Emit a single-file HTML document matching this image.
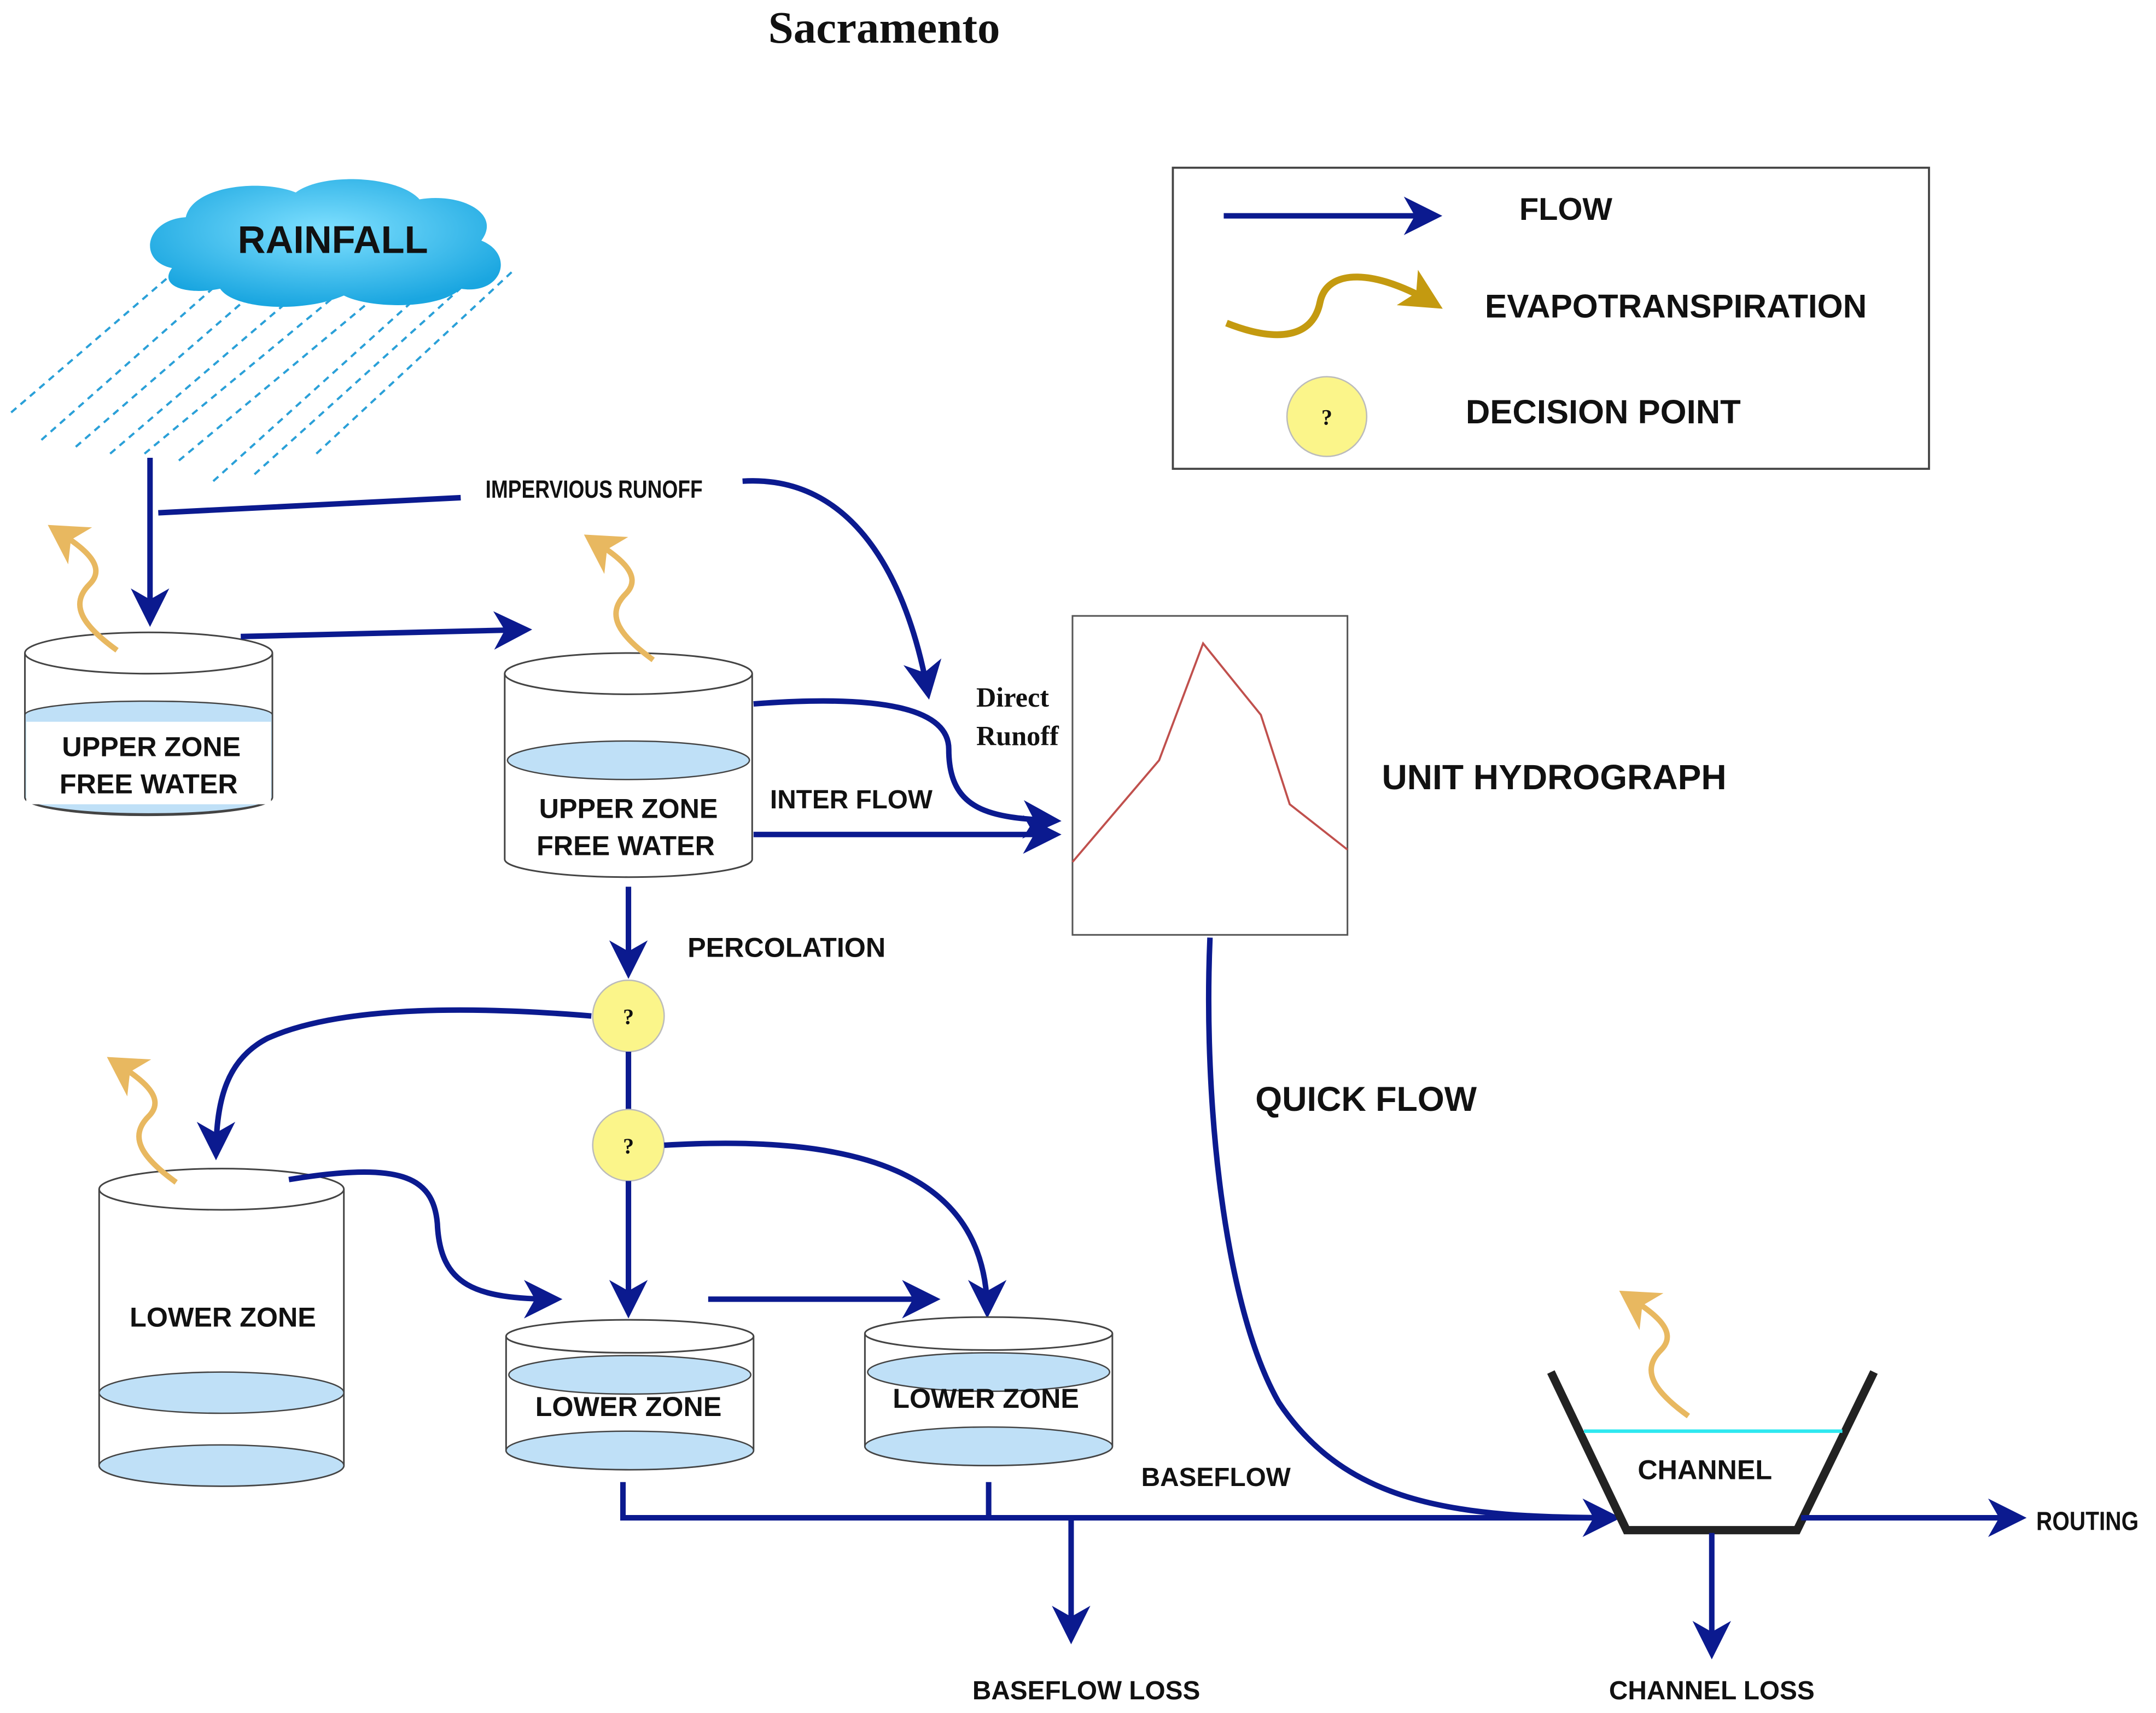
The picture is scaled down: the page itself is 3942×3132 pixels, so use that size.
<!DOCTYPE html>
<html><head><meta charset="utf-8">
<style>
html,body{margin:0;padding:0;background:#fff;}
svg{display:block;}
text{font-family:"Liberation Sans",sans-serif;font-weight:bold;fill:#111;}
</style></head>
<body>
<svg width="3942" height="3132" viewBox="0 0 1568 1246" xmlns="http://www.w3.org/2000/svg">
<defs>
<marker id="ah" markerWidth="8" markerHeight="8" refX="6" refY="4" orient="auto" markerUnits="strokeWidth">
<path d="M0,0.5 L7,4 L0,7.5 L2,4 Z" fill="#0b1a8f"/></marker>
<marker id="gh" markerWidth="8" markerHeight="8" refX="6" refY="4" orient="auto" markerUnits="strokeWidth">
<path d="M0,0 L7,4 L0,8 L2,4 Z" fill="#e8b860"/></marker>
<marker id="gh2" markerWidth="8" markerHeight="8" refX="5" refY="4" orient="auto" markerUnits="strokeWidth">
<path d="M0,1 L6,4 L0,7 L1.5,4 Z" fill="#c49a10"/></marker>
<radialGradient id="cg" cx="50%" cy="40%" r="60%"><stop offset="0" stop-color="#7fe0ff"/><stop offset="1" stop-color="#1aa6e0"/></radialGradient>
</defs>
<style>
.f{stroke:#0b1a8f;stroke-width:4;fill:none;}
.e{stroke:#e8b860;stroke-width:4;fill:none;}
.t{fill:#fff;stroke:#444;stroke-width:1.2;}
.w{fill:#bfe0f7;stroke:#444;stroke-width:1;}
</style>
<text x="643" y="31" text-anchor="middle" style="font-family:'Liberation Serif',serif;font-size:33px">Sacramento</text>

<!-- rain -->
<g stroke="#2aa0d8" stroke-width="1.6" stroke-dasharray="5,4">
<line x1="8" y1="300" x2="130" y2="195"/><line x1="30" y1="320" x2="160" y2="205"/>
<line x1="55" y1="325" x2="190" y2="208"/><line x1="80" y1="330" x2="220" y2="210"/>
<line x1="105" y1="330" x2="250" y2="210"/><line x1="130" y1="335" x2="280" y2="210"/>
<line x1="155" y1="350" x2="310" y2="210"/><line x1="185" y1="345" x2="340" y2="205"/>
<line x1="230" y1="330" x2="372" y2="198"/>
</g>
<!-- cloud -->
<path d="M125,195 C100,190 105,160 135,158 C140,135 190,130 215,140 C235,125 290,128 305,145 C335,140 365,155 350,175 C375,185 365,215 335,210 C320,225 270,225 250,215 C220,228 170,225 160,210 C135,215 115,208 125,195 Z" fill="url(#cg)"/>
<text x="242" y="184" text-anchor="middle" style="font-size:28px">RAINFALL</text>

<!-- legend -->
<rect x="853" y="122" width="550" height="219" fill="#fff" stroke="#444" stroke-width="1.5"/>
<line class="f" x1="890" y1="157" x2="1045" y2="157" marker-end="url(#ah)"/>
<text x="1105" y="160" style="font-size:23px">FLOW</text>
<path d="M892,235 C930,250 955,245 960,220 C965,195 1000,195 1045,222" stroke="#c49a10" stroke-width="5" fill="none" marker-end="url(#gh2)"/>
<text x="1080" y="231" style="font-size:24px">EVAPOTRANSPIRATION</text>
<circle cx="965" cy="303" r="29" fill="#fbf58a" stroke="#bbb"/>
<text x="965" y="309" text-anchor="middle" style="font-family:'Liberation Serif',serif;font-size:16px">?</text>
<text x="1066" y="308" style="font-size:24.5px">DECISION POINT</text>

<!-- rain down + impervious -->
<line class="f" x1="109" y1="333" x2="109" y2="452" marker-end="url(#ah)"/>
<line class="f" x1="115" y1="373" x2="335" y2="362"/>
<text x="353" y="362" style="font-size:18px;transform-origin:353px 362px;transform:scaleX(0.82)">IMPERVIOUS RUNOFF</text>
<path class="f" d="M540,350 C620,345 660,420 675,505" marker-end="url(#ah)"/>

<!-- tank1 -->
<path class="t" d="M18,475 L18,580 A90,13 0 0 0 198,580 L198,475"/>
<path class="w" d="M18,520 A90,10 0 0 1 198,520 L198,580 A90,12 0 0 1 18,580 Z"/>
<rect x="19" y="525" width="178" height="60" fill="#fff"/>
<ellipse class="t" cx="108" cy="475" rx="90" ry="15"/>
<text x="110" y="550" text-anchor="middle" style="font-size:20px">UPPER ZONE</text>
<text x="108" y="577" text-anchor="middle" style="font-size:20px">FREE WATER</text>
<line class="f" x1="175" y1="463" x2="383" y2="458" marker-end="url(#ah)"/>

<!-- tank2 -->
<path class="t" d="M367,490 L367,625 A90,13 0 0 0 547,625 L547,490"/>
<ellipse class="w" cx="457" cy="553" rx="88" ry="14"/>
<ellipse class="t" cx="457" cy="490" rx="90" ry="15"/>
<text x="457" y="595" text-anchor="middle" style="font-size:20px">UPPER ZONE</text>
<text x="455" y="622" text-anchor="middle" style="font-size:20px">FREE WATER</text>

<path class="f" d="M548,512 C640,505 690,515 690,545 C690,590 720,595 768,597" marker-end="url(#ah)"/>
<line class="f" x1="548" y1="607" x2="768" y2="607" marker-end="url(#ah)"/>
<text x="560" y="588" style="font-size:19px">INTER FLOW</text>
<text x="710" y="514" style="font-family:'Liberation Serif',serif;font-size:20px">Direct</text>
<text x="710" y="542" style="font-family:'Liberation Serif',serif;font-size:20px">Runoff</text>

<!-- hydrograph -->
<rect x="780" y="448" width="200" height="232" fill="#fff" stroke="#555" stroke-width="1.2"/>
<polyline points="780,627 843,553 875,468 917,520 938,585 980,618" fill="none" stroke="#c0504d" stroke-width="1.5"/>
<text x="1005" y="574" style="font-size:25.5px">UNIT HYDROGRAPH</text>

<!-- percolation -->
<line class="f" x1="457" y1="645" x2="457" y2="708" marker-end="url(#ah)"/>
<text x="500" y="696" style="font-size:20px">PERCOLATION</text>
<circle cx="457" cy="739" r="26" fill="#fbf58a" stroke="#bbb"/>
<text x="457" y="745" text-anchor="middle" style="font-family:'Liberation Serif',serif;font-size:16px">?</text>
<line class="f" x1="457" y1="765" x2="457" y2="807"/>
<circle cx="457" cy="833" r="26" fill="#fbf58a" stroke="#bbb"/>
<text x="457" y="839" text-anchor="middle" style="font-family:'Liberation Serif',serif;font-size:16px">?</text>
<path class="f" d="M430,739 C320,730 240,735 195,755 C165,770 157,800 157,840" marker-end="url(#ah)"/>
<line class="f" x1="457" y1="859" x2="457" y2="955" marker-end="url(#ah)"/>
<path class="f" d="M483,833 C620,825 718,850 718,955" marker-end="url(#ah)"/>

<!-- left tank -->
<path class="t" d="M72,865 L72,1066 A89,15 0 0 0 250,1066 L250,865"/>
<ellipse class="w" cx="161" cy="1013" rx="89" ry="15"/>
<ellipse class="w" cx="161" cy="1066" rx="89" ry="15"/>
<ellipse class="t" cx="161" cy="865" rx="89" ry="15"/>
<text x="162" y="965" text-anchor="middle" style="font-size:20px">LOWER ZONE</text>
<path class="f" d="M210,858 C290,845 315,855 318,890 C320,935 345,945 405,945" marker-end="url(#ah)"/>
<line class="f" x1="515" y1="945" x2="680" y2="945" marker-end="url(#ah)"/>

<!-- mid tank -->
<path class="t" d="M368,972 L368,1055 A90,14 0 0 0 548,1055 L548,972"/>
<ellipse class="w" cx="458" cy="1000" rx="88" ry="14"/>
<ellipse class="w" cx="458" cy="1055" rx="90" ry="14"/>
<ellipse class="t" cx="458" cy="972" rx="90" ry="12" fill="none"/>
<text x="457" y="1030" text-anchor="middle" style="font-size:20px">LOWER ZONE</text>
<!-- right tank -->
<path class="t" d="M629,970 L629,1052 A90,14 0 0 0 809,1052 L809,970"/>
<ellipse class="w" cx="719" cy="998" rx="88" ry="14"/>
<ellipse class="w" cx="719" cy="1052" rx="90" ry="14"/>
<ellipse class="t" cx="719" cy="970" rx="90" ry="12" fill="none"/>
<text x="717" y="1024" text-anchor="middle" style="font-size:20px">LOWER ZONE</text>

<!-- baseflow -->
<path class="f" d="M453,1078 L453,1104 L1175,1104" marker-end="url(#ah)"/>
<line class="f" x1="719" y1="1078" x2="719" y2="1104"/>
<line class="f" x1="779" y1="1104" x2="779" y2="1192" marker-end="url(#ah)"/>
<text x="830" y="1081" style="font-size:19px">BASEFLOW</text>
<text x="790" y="1236" text-anchor="middle" style="font-size:19px">BASEFLOW LOSS</text>

<!-- quick flow -->
<path class="f" d="M880,682 C875,800 890,950 930,1020 C980,1095 1060,1104 1175,1104"/>
<text x="913" y="808" style="font-size:25px">QUICK FLOW</text>

<!-- channel -->
<polyline points="1128,998 1183,1113 1307,1113 1363,998" fill="none" stroke="#222" stroke-width="6"/>
<line x1="1152" y1="1041" x2="1340" y2="1041" stroke="#2ee8f0" stroke-width="2.5"/>
<text x="1240" y="1076" text-anchor="middle" style="font-size:20px">CHANNEL</text>
<line class="f" x1="1310" y1="1104" x2="1470" y2="1104" marker-end="url(#ah)"/>
<text x="1481" y="1113" style="font-size:19px;transform-origin:1481px 1113px;transform:scaleX(0.85)">ROUTING</text>
<line class="f" x1="1245" y1="1115" x2="1245" y2="1203" marker-end="url(#ah)"/>
<text x="1245" y="1236" text-anchor="middle" style="font-size:19px">CHANNEL LOSS</text>

<!-- evap squiggles -->
<path class="e" d="M85,473 C60,455 50,440 65,425 C80,410 55,395 38,384" marker-end="url(#gh)"/>
<path class="e" d="M475,480 C450,462 440,447 455,432 C470,417 445,402 428,391" marker-end="url(#gh)"/>
<path class="e" d="M128,860 C103,842 93,827 108,812 C123,797 98,782 81,771" marker-end="url(#gh)"/>
<path class="e" d="M1228,1030 C1203,1012 1193,997 1208,982 C1223,967 1198,952 1181,941" marker-end="url(#gh)"/>
</svg>
</body></html>
